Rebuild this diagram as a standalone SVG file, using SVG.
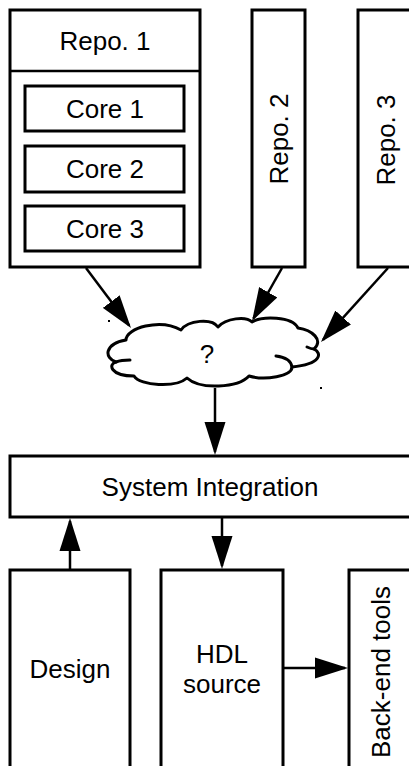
<svg xmlns="http://www.w3.org/2000/svg" width="409" height="766" viewBox="0 0 409 766">
  <style>
    .box { fill: #ffffff; stroke: #000000; stroke-width: 3; }
    .sep { stroke: #000000; stroke-width: 2.5; }
    .lbl { font-family: "Liberation Sans", Arial, sans-serif; font-size: 26px; fill: #000000; text-anchor: middle; }
    .edge { fill: none; stroke: #000000; stroke-width: 2.5; marker-end: url(#head); }
    .cloud { fill: #ffffff; stroke: #000000; stroke-width: 3; stroke-linejoin: round; }
    .curl { fill: none; stroke: #000000; stroke-width: 3; stroke-linecap: round; }
  </style>
  <defs>
    <marker id="head" markerUnits="userSpaceOnUse" markerWidth="34" markerHeight="22" refX="30" refY="11" orient="auto">
      <path d="M0,0.5 L33,11 L0,21.5 Z" fill="#000000"/>
    </marker>
  </defs>

  <rect width="409" height="766" fill="#ffffff"/>

  <!-- repository 1 with its cores -->
  <g id="repo1">
    <rect class="box" x="10" y="10" width="190" height="257"/>
    <line class="sep" x1="10" y1="71" x2="200" y2="71"/>
    <text class="lbl" x="105" y="50">Repo. 1</text>
  </g>
  <g id="core1">
    <rect class="box" x="25" y="86" width="159" height="45"/>
    <text class="lbl" x="105" y="118">Core 1</text>
  </g>
  <g id="core2">
    <rect class="box" x="25" y="146" width="159" height="46"/>
    <text class="lbl" x="105" y="178">Core 2</text>
  </g>
  <g id="core3">
    <rect class="box" x="25" y="206" width="159" height="45"/>
    <text class="lbl" x="105" y="238">Core 3</text>
  </g>

  <g id="repo2">
    <rect class="box" x="252" y="10" width="53" height="257"/>
    <text class="lbl" transform="translate(279,139) rotate(-90)" x="0" y="9.3">Repo. 2</text>
  </g>
  <g id="repo3">
    <rect class="box" x="358" y="10" width="53" height="257"/>
    <text class="lbl" transform="translate(386,140) rotate(-90)" x="0" y="9.3">Repo. 3</text>
  </g>

  <!-- unknown merge step -->
  <g id="cloud">
    <path class="cloud" d="M126 340
      C126 328 160 318 181 330
      C188 320 212 318 218 327
      C226 318 246 316 252 322
      C262 316 292 316 298 328
      C312 330 324 340 314 349
      C322 353 322 364 292 367
      C292 376 265 381 249 376
      C238 388 200 390 187 378
      C176 388 140 386 134 376
      C110 376 108 364 116 362
      C104 358 104 344 126 340 Z"/>
    <path class="curl" d="M314 349 C311 349 309 348 307 347"/>
    <path class="curl" d="M276 356 C285 357 291 361 292 367"/>
    <path class="curl" d="M116 362 C121 360 126 360 130 360"/>
    <text class="lbl" x="207" y="363">?</text>
    <rect x="108" y="320" width="2" height="2" fill="#000000"/>
    <rect x="320" y="387" width="2" height="2" fill="#000000"/>
  </g>

  <g id="system-integration">
    <rect class="box" x="10" y="456" width="402" height="61"/>
    <text class="lbl" x="210" y="496">System Integration</text>
  </g>

  <g id="design">
    <rect class="box" x="10" y="570" width="120" height="200"/>
    <text class="lbl" x="70" y="678">Design</text>
  </g>
  <g id="hdl-source">
    <rect class="box" x="161" y="570" width="122" height="200"/>
    <text class="lbl" x="222" y="663">HDL</text>
    <text class="lbl" x="222" y="693">source</text>
  </g>
  <g id="back-end-tools">
    <rect class="box" x="349" y="570" width="64" height="200"/>
    <text class="lbl" transform="translate(381,672) rotate(-90)" x="0" y="9.3">Back-end tools</text>
  </g>

  <g id="connectors">
    <line class="edge" x1="86" y1="268" x2="129.2" y2="325.6"/>
    <line class="edge" x1="282" y1="268" x2="253.5" y2="318.4"/>
    <line class="edge" x1="388" y1="268" x2="323" y2="339.8"/>
    <line class="edge" x1="215" y1="388" x2="215" y2="452"/>
    <line class="edge" x1="222" y1="518" x2="222" y2="566"/>
    <line class="edge" x1="70" y1="569" x2="70" y2="521"/>
    <line class="edge" x1="283" y1="668" x2="345" y2="668"/>
  </g>
</svg>
